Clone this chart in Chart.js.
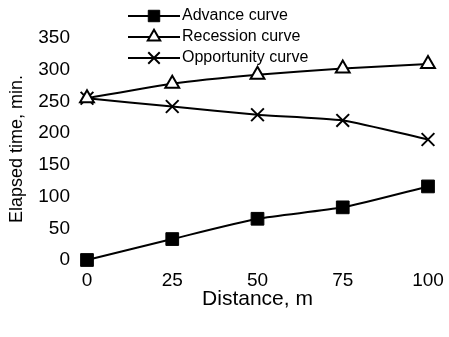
<!DOCTYPE html>
<html>
<head>
<meta charset="utf-8">
<script src="https://cdn.jsdelivr.net/npm/chart.js@4"></script>
<style>
  html, body { margin: 0; padding: 0; background: #fff; }
  #wrap { position: relative; width: 449px; height: 337px; }
</style>
</head>
<body>
<div id="wrap"><canvas id="c"></canvas></div>
<script>
const distances = [0, 25, 50, 75, 100];
const advance = [0, 33, 65, 83, 116];
const recession = [255, 278, 292, 302, 309];
const opportunity = [255, 242, 229, 220, 190];
const yTicks = [0, 50, 100, 150, 200, 250, 300, 350];
const seriesNames = ['Advance curve', 'Recession curve', 'Opportunity curve'];

const FONT = "'Liberation Sans', Arial, sans-serif";

function pts(vals) {
  return distances.map((d, i) => ({ x: d, y: vals[i] }));
}

// legend drawn inside the plot, line + marker + label
const legendPlugin = {
  id: 'innerLegend',
  afterDraw(chart) {
    const ctx = chart.ctx;
    const x0 = 128, x1 = 180;
    const rows = [16, 37, 58];
    chart.data.datasets.forEach((ds, i) => {
      const y = rows[i];
      ctx.save();
      ctx.strokeStyle = '#000';
      ctx.lineWidth = 2;
      ctx.beginPath();
      ctx.moveTo(x0, y);
      ctx.lineTo(x1, y);
      ctx.stroke();
      ctx.fillStyle = ds.pointBackgroundColor;
      ctx.lineWidth = ds.pointBorderWidth;
      Chart.helpers.drawPoint(ctx, {
        pointStyle: ds.pointStyle,
        radius: ds.pointRadius * 0.9,
        borderWidth: ds.pointBorderWidth
      }, (x0 + x1) / 2, y);
      ctx.fillStyle = '#000';
      ctx.font = '16px ' + FONT;
      ctx.textBaseline = 'middle';
      ctx.fillText(ds.label, x1 + 2, y);
      ctx.restore();
    });
  }
};

const common = {
  borderColor: '#000',
  borderWidth: 2,
  pointBorderColor: '#000',
  tension: 0.2,
  fill: false,
  clip: false
};

new Chart(document.getElementById('c'), {
  type: 'line',
  data: {
    datasets: [
      Object.assign({}, common, {
        label: seriesNames[0], data: pts(advance),
        pointStyle: 'rect', pointRadius: 9, pointBackgroundColor: '#000', pointBorderWidth: 1
      }),
      Object.assign({}, common, {
        label: seriesNames[1], data: pts(recession),
        pointStyle: 'triangle', pointRadius: 8, pointBackgroundColor: '#fff', pointBorderWidth: 2
      }),
      Object.assign({}, common, {
        label: seriesNames[2], data: pts(opportunity),
        pointStyle: 'crossRot', pointRadius: 9, pointBackgroundColor: '#000', pointBorderWidth: 2
      })
    ]
  },
  options: {
    responsive: true,
    maintainAspectRatio: false,
    animation: false,
    layout: { padding: { top: 38, right: 0, bottom: 27, left: 6 } },
    plugins: {
      legend: { display: false },
      tooltip: { enabled: false }
    },
    scales: {
      x: {
        type: 'linear',
        min: 0,
        max: 100,
        afterBuildTicks: (s) => { s.ticks = distances.map(v => ({ value: v })); },
        afterFit: (s) => { s.paddingRight = 21; },
        grid: { display: false, drawTicks: false },
        border: { display: false },
        ticks: { color: '#000', font: { family: FONT, size: 19, lineHeight: 1 }, padding: 11 },
        title: { display: true, text: 'Distance, m', color: '#000', font: { family: FONT, size: 21, lineHeight: 1 }, padding: { top: -12, bottom: 0 } }
      },
      y: {
        min: 0,
        max: 350,
        afterBuildTicks: (s) => { s.ticks = yTicks.map(v => ({ value: v })); },
        afterFit: (s) => { s.width = 81; },
        grid: { display: false, drawTicks: false },
        border: { display: false },
        ticks: { color: '#000', font: { family: FONT, size: 19, lineHeight: 1 }, padding: 17 },
        title: { display: true, text: 'Elapsed time, min.', color: '#000', font: { family: FONT, size: 18, lineHeight: 1 }, padding: { top: 2, bottom: 0 } }
      }
    }
  },
  plugins: [legendPlugin]
});
</script>
</body>
</html>
